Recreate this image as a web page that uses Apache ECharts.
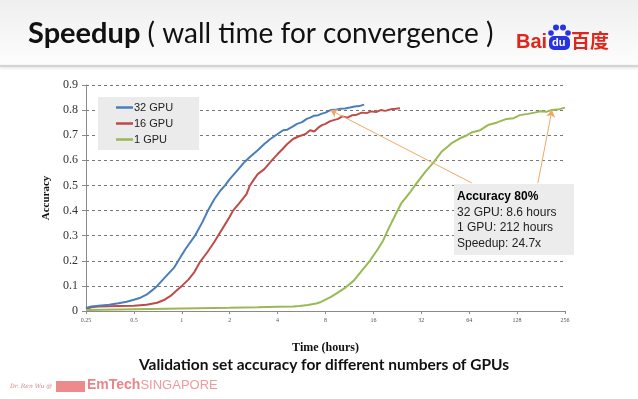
<!DOCTYPE html>
<html>
<head>
<meta charset="utf-8">
<script src="https://cdn.jsdelivr.net/npm/echarts@6/dist/echarts.min.js"></script>
<style>
  html, body { margin: 0; padding: 0; background: #fff; }
  #chart { width: 638px; height: 399px; }
</style>
</head>
<body>
<div id="chart"></div>
<script>
// 数据
const xTicks = [0.25, 0.5, 1, 2, 4, 8, 16, 32, 64, 128, 256]
const seriesNames = ['32 GPU', '16 GPU', '1 GPU']

const gpu32Hours = [0.25, 0.27, 0.3, 0.35, 0.4, 0.45, 0.5, 0.55, 0.6, 0.65, 0.7, 0.8, 0.9, 0.95, 1.05, 1.21, 1.35, 1.46, 1.6, 1.75, 1.87, 2.0, 2.2, 2.45, 2.7, 3.0, 3.3, 3.6, 4.0, 4.33, 4.6, 5.0, 5.3, 5.7, 6.1, 6.4, 6.8, 7.2, 7.6, 8.0, 8.6, 9.2, 9.9, 10.6, 11.4, 12.2, 13.0, 14.0]
const gpu32Acc = [0.012, 0.018, 0.021, 0.025, 0.031, 0.037, 0.045, 0.053, 0.065, 0.082, 0.1, 0.14, 0.175, 0.2, 0.245, 0.3, 0.355, 0.4, 0.445, 0.48, 0.5, 0.525, 0.555, 0.59, 0.615, 0.64, 0.665, 0.685, 0.705, 0.72, 0.722, 0.735, 0.745, 0.752, 0.765, 0.77, 0.778, 0.78, 0.786, 0.79, 0.8, 0.801, 0.805, 0.806, 0.81, 0.814, 0.816, 0.822]

const gpu16Hours = [0.25, 0.27, 0.3, 0.35, 0.4, 0.5, 0.6, 0.7, 0.78, 0.85, 0.92, 1.0, 1.1, 1.2, 1.3, 1.45, 1.6, 1.69, 1.85, 2.0, 2.1, 2.3, 2.55, 2.68, 2.85, 3.0, 3.3, 3.68, 4.0, 4.3, 4.6, 5.0, 5.4, 5.7, 6.0, 6.4, 6.8, 7.2, 7.6, 8.0, 8.5, 9.0, 9.6, 10.2, 11.0, 11.8, 12.6, 13.5, 14.5, 15.5, 16.6, 17.8, 19.0, 20.5, 22.0, 23.5]
const gpu16Acc = [0.008, 0.015, 0.018, 0.019, 0.02, 0.021, 0.025, 0.033, 0.045, 0.06, 0.08, 0.1, 0.125, 0.155, 0.195, 0.235, 0.275, 0.3, 0.34, 0.375, 0.4, 0.43, 0.465, 0.5, 0.525, 0.545, 0.565, 0.6, 0.625, 0.645, 0.665, 0.685, 0.695, 0.7, 0.705, 0.72, 0.715, 0.73, 0.74, 0.745, 0.755, 0.76, 0.765, 0.775, 0.77, 0.78, 0.782, 0.79, 0.788, 0.795, 0.792, 0.8, 0.797, 0.803, 0.805, 0.807]

const gpu1Hours = [0.25, 0.5, 1, 2, 3, 4, 5, 5.5, 6.2, 7, 7.5, 8, 8.6, 9.4, 10.5, 12, 13.5, 15.2, 17, 18.4, 20, 22.3, 24, 27, 30, 34, 38, 43, 47, 50, 57, 62, 67, 75, 85, 95, 110, 122, 133, 150, 165, 178, 195, 210, 230, 240, 256]
const gpu1Acc = [0.004, 0.007, 0.01, 0.013, 0.015, 0.017, 0.018, 0.02, 0.024, 0.03, 0.036, 0.045, 0.055, 0.07, 0.09, 0.12, 0.16, 0.2, 0.245, 0.28, 0.33, 0.39, 0.43, 0.47, 0.51, 0.555, 0.59, 0.635, 0.655, 0.67, 0.69, 0.7, 0.712, 0.72, 0.742, 0.75, 0.765, 0.768, 0.78, 0.785, 0.79, 0.795, 0.793, 0.8, 0.802, 0.805, 0.81]

// annotation: arrows from the box to the 80% points
const arrowFrom = [[66.4, 0.51], [173, 0.51]]
const arrowTo = [[8.6, 0.8], [212, 0.8]]
const annoLines = ['Accuracy 80%', '32 GPU: 8.6 hours', '1 GPU: 212 hours', 'Speedup: 24.7x']

const zip = (xs, ys) => xs.map((x, i) => [x, ys[i]])

const colors = ['#4a7ebb', '#be4b48', '#98b954']
const serif = 'Liberation Serif'
const sans = 'Liberation Sans'

const chart = echarts.init(document.getElementById('chart'))

const option = {
  animation: false,
  color: colors,
  grid: { left: 86, right: 73, top: 85, bottom: 88 },
  legend: {
    data: seriesNames,
    orient: 'vertical',
    left: 98,
    top: 97,
    backgroundColor: '#ebebeb',
    padding: [5, 26, 5, 18],
    itemGap: 5,
    itemWidth: 17,
    itemHeight: 2.5,
    icon: 'rect',
    textStyle: { fontFamily: sans, fontSize: 11, color: '#222', padding: [0, 0, 0, -4] }
  },
  xAxis: {
    type: 'log',
    logBase: 2,
    min: 0.25,
    max: 256,
    interval: 1,
    name: 'Time (hours)',
    nameLocation: 'middle',
    nameGap: 31,
    nameTextStyle: { fontFamily: serif, fontWeight: 'bold', fontSize: 12, color: '#111' },
    axisLine: { lineStyle: { color: '#8a8a8a' } },
    axisTick: { show: true, length: 3, lineStyle: { color: '#8a8a8a' } },
    splitLine: { show: false },
    axisLabel: {
      fontFamily: serif,
      fontSize: 6,
      color: '#555',
      margin: 6,
      formatter: (v) => String(Math.round(v * 100) / 100)
    }
  },
  yAxis: {
    type: 'value',
    min: 0,
    max: 0.9,
    interval: 0.1,
    name: 'Accuracy',
    nameLocation: 'middle',
    nameGap: 33,
    nameRotate: 90,
    nameTextStyle: { fontFamily: serif, fontWeight: 'bold', fontSize: 11, color: '#111' },
    axisLine: { show: true, lineStyle: { color: '#8a8a8a' } },
    axisTick: { show: true, length: 4, lineStyle: { color: '#8a8a8a' } },
    splitLine: { lineStyle: { color: '#777', type: [3, 3], width: 1 } },
    axisLabel: {
      fontFamily: serif,
      fontSize: 12,
      color: '#333',
      margin: 8,
      formatter: (v) => (v === 0 ? '0' : v.toFixed(1))
    }
  },
  series: [
    {
      name: seriesNames[0],
      type: 'line',
      symbol: 'none',
      lineStyle: { width: 2 },
      data: zip(gpu32Hours, gpu32Acc),
      z: 3
    },
    {
      name: seriesNames[1],
      type: 'line',
      symbol: 'none',
      lineStyle: { width: 2 },
      data: zip(gpu16Hours, gpu16Acc),
      z: 2
    },
    {
      name: seriesNames[2],
      type: 'line',
      symbol: 'none',
      lineStyle: { width: 2 },
      data: zip(gpu1Hours, gpu1Acc),
      markLine: {
        silent: true,
        symbol: ['none', 'arrow'],
        symbolSize: 7,
        label: { show: false },
        lineStyle: { color: '#eea865', width: 1, type: 'solid' },
        data: arrowFrom.map((p, i) => [{ coord: p }, { coord: arrowTo[i] }])
      }
    }
  ],
  graphic: [
    // title band
    {
      type: 'rect',
      shape: { x: 0, y: 0, width: 638, height: 65 },
      style: {
        fill: new echarts.graphic.LinearGradient(0, 0, 0, 1, [
          { offset: 0, color: '#efefef' },
          { offset: 1, color: '#fdfdfd' }
        ])
      },
      z: -10
    },
    {
      type: 'rect',
      shape: { x: 0, y: 65, width: 638, height: 2 },
      style: { fill: '#d4d4d4', shadowColor: 'rgba(0,0,0,0.15)', shadowBlur: 3, shadowOffsetY: 1 },
      z: -9
    },
    {
      type: 'text',
      left: 28,
      top: 19,
      style: {
        text: '{b|Speedup} ( wall time for convergence )',
        font: '28px Lato',
        fill: '#111',
        rich: { b: { fontFamily: 'Lato', fontWeight: 'bold', fontSize: 29, fill: '#111' } }
      }
    },
    // Baidu logo
    {
      type: 'text',
      left: 516,
      top: 32,
      style: { text: 'Bai', fontFamily: sans, fontWeight: 'bold', fontSize: 20, fill: '#e1251b' }
    },
    {
      type: 'group',
      children: [
        { type: 'circle', shape: { cx: 551, cy: 33, r: 2.8 }, style: { fill: '#2932e1' } },
        { type: 'circle', shape: { cx: 556, cy: 27.5, r: 3 }, style: { fill: '#2932e1' } },
        { type: 'circle', shape: { cx: 563, cy: 27.5, r: 3 }, style: { fill: '#2932e1' } },
        { type: 'circle', shape: { cx: 568, cy: 33, r: 2.8 }, style: { fill: '#2932e1' } },
        { type: 'rect', shape: { x: 549, y: 36, width: 21, height: 14, r: 5 }, style: { fill: '#2932e1' } },
        { type: 'text', x: 552, y: 37, style: { text: 'du', fontFamily: sans, fontWeight: 'bold', fontSize: 11, fill: '#fff' } }
      ]
    },
    {
      type: 'text',
      left: 571,
      top: 31,
      style: { text: '百度', fontFamily: 'Noto Sans CJK SC', fontWeight: 'bold', fontSize: 19, fill: '#e1251b' }
    },
    // annotation box
    {
      type: 'rect',
      shape: { x: 454, y: 184, width: 120, height: 71 },
      style: { fill: '#ececec' },
      z: 5
    },
    {
      type: 'text',
      left: 457,
      top: 189,
      z: 6,
      style: {
        text: '{b|' + annoLines[0] + '}\n' + annoLines.slice(1).join('\n'),
        fontFamily: sans,
        fontSize: 12,
        lineHeight: 15.5,
        fill: '#222',
        rich: { b: { fontFamily: sans, fontWeight: 'bold', fontSize: 12, lineHeight: 15.5, fill: '#000' } }
      }
    },
    // subtitle
    {
      type: 'text',
      left: 139,
      top: 357,
      style: {
        text: 'Validation set accuracy for different numbers of GPUs',
        fontFamily: 'Lato',
        fontWeight: 'bold',
        fontSize: 15.5,
        fill: '#111'
      }
    },
    // footer
    {
      type: 'text',
      left: 10,
      top: 383,
      style: { text: 'Dr. Ren Wu @', fontFamily: 'DejaVu Serif', fontStyle: 'italic', fontSize: 6, fill: '#d08a8a' }
    },
    {
      type: 'rect',
      shape: { x: 56, y: 381, width: 29, height: 11 },
      style: { fill: '#ec8a8c' }
    },
    {
      type: 'text',
      left: 87,
      top: 378,
      style: {
        text: '{b|EmTech}SINGAPORE',
        fontFamily: sans,
        fontSize: 13,
        fill: '#ef9a9c',
        rich: { b: { fontFamily: sans, fontWeight: 'bold', fontSize: 14, fill: '#e98587' } }
      }
    }
  ]
}

chart.setOption(option)
window.addEventListener('resize', () => {
  chart.resize()
})
</script>
</body>
</html>
